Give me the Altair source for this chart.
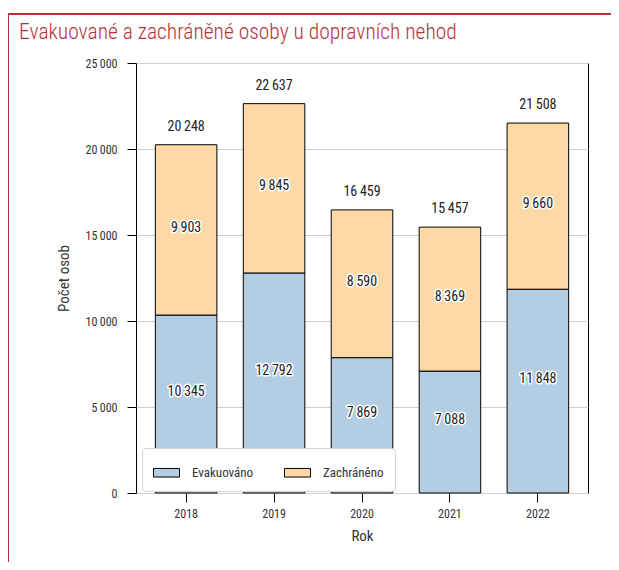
import altair as alt
import pandas as pd

years = ["2018", "2019", "2020", "2021", "2022"]
evakuovano = [10345, 12792, 7869, 7088, 11848]
zachraneno = [9903, 9845, 8590, 8369, 9660]
series = ["Evakuováno", "Zachráněno"]
colors = ["#b3cde3", "#fed9a6"]
y_ticks = [0, 5000, 10000, 15000, 20000, 25000]
title_text = "Evakuované a zachráněné osoby u dopravních nehod"

rows = []
for i, y in enumerate(years):
    rows.append({"year": y, "series": series[0], "value": evakuovano[i], "ord": 0})
    rows.append({"year": y, "series": series[1], "value": zachraneno[i], "ord": 1})
df = pd.DataFrame(rows)

FONT = "Roboto Condensed, Liberation Sans Narrow, Roboto"
RED = "#b2353a"
TXT = "#333333"

base = alt.Chart(df)

x_enc = alt.X("year:N", title="Rok",
              scale=alt.Scale(paddingInner=0.3, paddingOuter=0.22),
              axis=alt.Axis(labelAngle=0, domain=False, ticks=True, tickSize=9,
                            tickColor="black", labelPadding=6, titlePadding=9,
                            labelFontSize=12, titleFontSize=15, labelColor=TXT,
                            titleColor=TXT, labelFont=FONT, titleFont=FONT,
                            titleFontWeight="normal"))

bars = base.mark_bar(stroke="black", strokeWidth=1).encode(
    x=x_enc,
    y=alt.Y("sum(value):Q", title="Počet osob", stack="zero",
            scale=alt.Scale(domain=[0, 25000], nice=False),
            axis=alt.Axis(values=y_ticks, grid=True, gridColor="#d0d0d0",
                          domain=False, tickColor="black", tickSize=9,
                          labelPadding=10, titlePadding=14, labelFontSize=12,
                          titleFontSize=15, labelColor=TXT, titleColor=TXT,
                          labelFont=FONT, titleFont=FONT, titleFontWeight="normal")),
    color=alt.Color("series:N", scale=alt.Scale(domain=series, range=colors),
                    legend=alt.Legend(title=None, orient="none", legendX=6, legendY=385,
                                      direction="horizontal", padding=11,
                                      strokeColor="#d4d4d4", fillColor="white",
                                      cornerRadius=4, symbolType="M-1,-0.33L1,-0.33L1,0.33L-1,0.33Z",
                                      symbolSize=676, symbolStrokeColor="black",
                                      symbolStrokeWidth=1, symbolOpacity=1,
                                      labelFontSize=13, labelFont=FONT, labelColor=TXT,
                                      columnPadding=28, labelOffset=12)),
    order=alt.Order("ord:Q"),
)

stacked = base.transform_stack(
    stack="value", groupby=["year"], as_=["v0", "v1"], sort=[alt.SortField("ord")]
).transform_calculate(
    mid="(datum.v0 + datum.v1) / 2"
)


def seg_layer(name, dy, halo):
    props = dict(fontSize=14, font=FONT, dy=dy)
    if halo:
        props.update(color="white", stroke="white", strokeWidth=3, strokeJoin="round")
    else:
        props.update(color="#222")
    return stacked.transform_filter(alt.datum.series == name).mark_text(**props).encode(
        x="year:N",
        y="mid:Q",
        text=alt.Text("value:Q", format=",d"),
    )


seg_layers = [
    seg_layer(series[0], -12, True), seg_layer(series[1], -2, True),
    seg_layer(series[0], -12, False), seg_layer(series[1], -2, False),
]

totals = base.mark_text(fontSize=14, font=FONT, color="#222", dy=-18).encode(
    x="year:N",
    y="sum(value):Q",
    text=alt.Text("sum(value):Q", format=",d"),
)

frame_df = pd.DataFrame({"t": [title_text]})
red_left = alt.Chart(frame_df).mark_rule(color=RED, strokeWidth=2).encode(
    x=alt.value(-128), y=alt.value(-49), y2=alt.value(500))
red_top = alt.Chart(frame_df).mark_rule(color=RED, strokeWidth=2).encode(
    x=alt.value(-129), x2=alt.value(490), y=alt.value(-49))
title = alt.Chart(frame_df).mark_text(
    align="left", baseline="middle", fontSize=21.5, font=FONT, color=RED, fontWeight=300
).encode(x=alt.value(-117), y=alt.value(-30), text="t:N")

chart = alt.layer(bars, *seg_layers, totals, red_left, red_top, title).properties(
    width=452, height=430,
    autosize=alt.AutoSizeParams(type="none"),
    padding={"left": 128, "top": 55, "right": 23, "bottom": 69},
).configure(
    locale={"number": {"decimal": ",", "thousands": "\u2009", "grouping": [3],
                       "currency": ["", ""]}}
).configure_view(stroke="black", strokeWidth=1)

chart.save("out.html", embed_options={"renderer": "svg", "actions": False})
